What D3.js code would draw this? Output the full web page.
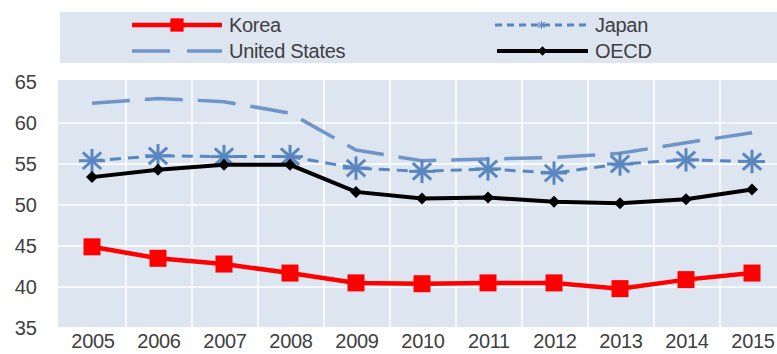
<!DOCTYPE html>
<html>
<head>
<meta charset="utf-8">
<script src="https://cdn.jsdelivr.net/npm/d3@7"></script>
<style>
  body { margin: 0; background: #fff; }
  text { font-family: "Liberation Sans", Arial, sans-serif; }
</style>
</head>
<body>
<div id="chart"></div>
<script>
// data
const years = ['2005', '2006', '2007', '2008', '2009', '2010', '2011', '2012', '2013', '2014', '2015'];
const korea = [44.9, 43.5, 42.8, 41.7, 40.5, 40.4, 40.5, 40.5, 39.8, 40.9, 41.7];
const japan = [55.4, 56.0, 55.9, 55.9, 54.5, 54.1, 54.4, 53.9, 55.0, 55.5, 55.3];
const unitedStates = [62.4, 63.0, 62.6, 61.2, 56.7, 55.4, 55.6, 55.8, 56.3, 57.6, 58.8];
const oecd = [53.4, 54.3, 54.9, 54.9, 51.6, 50.8, 50.9, 50.4, 50.2, 50.7, 51.9];
const yTicks = [35, 40, 45, 50, 55, 60, 65];

const width = 777, height = 354;
const margin = { top: 82, right: 0, bottom: 26, left: 59 };
const textColor = '#404040';

const svg = d3.select('#chart').append('svg')
    .attr('width', width)
    .attr('height', height);

// scales
const x = d3.scaleBand()
    .domain(years)
    .range([margin.left, margin.left + 66 * years.length]);

const y = d3.scaleLinear()
    .domain([35, 65])
    .range([height - margin.bottom, margin.top]);

const cx = d => x(d) + x.bandwidth() / 2;

// plot background
svg.append('rect')
    .attr('x', 58)
    .attr('y', y(65) - 2)
    .attr('width', width - 58)
    .attr('height', y(35) - y(65) + 1)
    .attr('fill', '#dce5f0');

// white grid
svg.append('g')
    .selectAll('line')
    .data(yTicks.slice(1, -1))
    .join('line')
    .attr('x1', 58).attr('x2', width)
    .attr('y1', d => y(d)).attr('y2', d => y(d))
    .attr('stroke', '#fff').attr('stroke-width', 1.5);

svg.append('g')
    .selectAll('line')
    .data(years.slice(1))
    .join('line')
    .attr('x1', d => x(d) + 1).attr('x2', d => x(d) + 1)
    .attr('y1', y(65) - 2).attr('y2', y(35) - 1)
    .attr('stroke', '#fff').attr('stroke-width', 1.5);

// axes (labels only)
const yAxis = d3.axisLeft(y).tickValues(yTicks).tickSize(0).tickPadding(0);
svg.append('g')
    .attr('transform', 'translate(37,0)')
    .call(yAxis)
    .call(g => g.select('.domain').remove())
    .selectAll('text')
    .attr('font-size', 20)
    .attr('fill', textColor)
    .attr('font-family', '"Liberation Sans", Arial, sans-serif');

const xAxis = d3.axisBottom(x).tickSize(0).tickPadding(0);
svg.append('g')
    .attr('transform', `translate(0,${height - margin.bottom + 6})`)
    .call(xAxis)
    .call(g => g.select('.domain').remove())
    .selectAll('text')
    .attr('x', 1)
    .attr('font-size', 20)
    .attr('letter-spacing', -0.3)
    .attr('fill', textColor)
    .attr('font-family', '"Liberation Sans", Arial, sans-serif');

const line = d3.line()
    .x((d, i) => cx(years[i]))
    .y(d => y(d));

const series = [
    { name: 'United States', values: unitedStates, color: '#6f94c7', width: 3.5, dash: '38,15', marker: 'none' },
    { name: 'Japan', values: japan, color: '#5a86c0', width: 3, dash: '11,7', marker: 'star' },
    { name: 'OECD', values: oecd, color: '#000000', width: 4, dash: null, marker: 'diamond' },
    { name: 'Korea', values: korea, color: '#ff0000', width: 4.5, dash: null, marker: 'square' }
];

const drawMarker = (g, type, color, px, py, scale) => {
    if (type === 'square') {
        const s = 17 * scale;
        g.append('rect')
            .attr('x', px - s / 2).attr('y', py - s / 2)
            .attr('width', s).attr('height', s)
            .attr('fill', color);
    } else if (type === 'diamond') {
        const s = 6 * scale;
        g.append('path')
            .attr('d', `M${px},${py - s}L${px + s},${py}L${px},${py + s}L${px - s},${py}Z`)
            .attr('fill', color);
    } else if (type === 'star') {
        const r = 13 * scale;
        [0, 45, 90, 135].forEach(a => {
            const rad = a * Math.PI / 180;
            g.append('line')
                .attr('x1', px - r * Math.cos(rad)).attr('y1', py - r * Math.sin(rad) * 0.9)
                .attr('x2', px + r * Math.cos(rad)).attr('y2', py + r * Math.sin(rad) * 0.9)
                .attr('stroke', color).attr('stroke-width', 3 * scale);
        });
    }
};

series.forEach(s => {
    const g = svg.append('g');
    g.append('path')
        .datum(s.values)
        .attr('d', line)
        .attr('fill', 'none')
        .attr('stroke', s.color)
        .attr('stroke-width', s.width)
        .attr('stroke-dasharray', s.dash);
    s.values.forEach((v, i) => drawMarker(g, s.marker, s.color, cx(years[i]), y(v), 1));
});

// legend
const legend = svg.append('g');
legend.append('rect')
    .attr('x', 60).attr('y', 12)
    .attr('width', width - 60).attr('height', 51)
    .attr('fill', '#dce5f0');

const legendItems = [
    { s: series[3], x0: 132, x1: 222, y: 25, dash: null, ms: 0.78 },
    { s: series[1], x0: 495, x1: 588, y: 25, dash: '7,5', ms: 0.35 },
    { s: series[0], x0: 132, x1: 222, y: 51, dash: '38,17', ms: 0 },
    { s: series[2], x0: 497, x1: 588, y: 51, dash: null, ms: 0.8 }
];

legendItems.forEach(d => {
    const g = legend.append('g');
    g.append('line')
        .attr('x1', d.x0).attr('x2', d.x1)
        .attr('y1', d.y).attr('y2', d.y)
        .attr('stroke', d.s.color)
        .attr('stroke-width', d.s.width)
        .attr('stroke-dasharray', d.dash);
    drawMarker(g, d.s.marker, d.s.color, (d.x0 + d.x1) / 2, d.y, d.ms);
    g.append('text')
        .attr('x', d.x1 + 7).attr('y', d.y + 7)
        .attr('font-size', 20)
        .attr('letter-spacing', -0.3)
        .attr('fill', textColor)
        .text(d.s.name);
});
</script>
</body>
</html>
